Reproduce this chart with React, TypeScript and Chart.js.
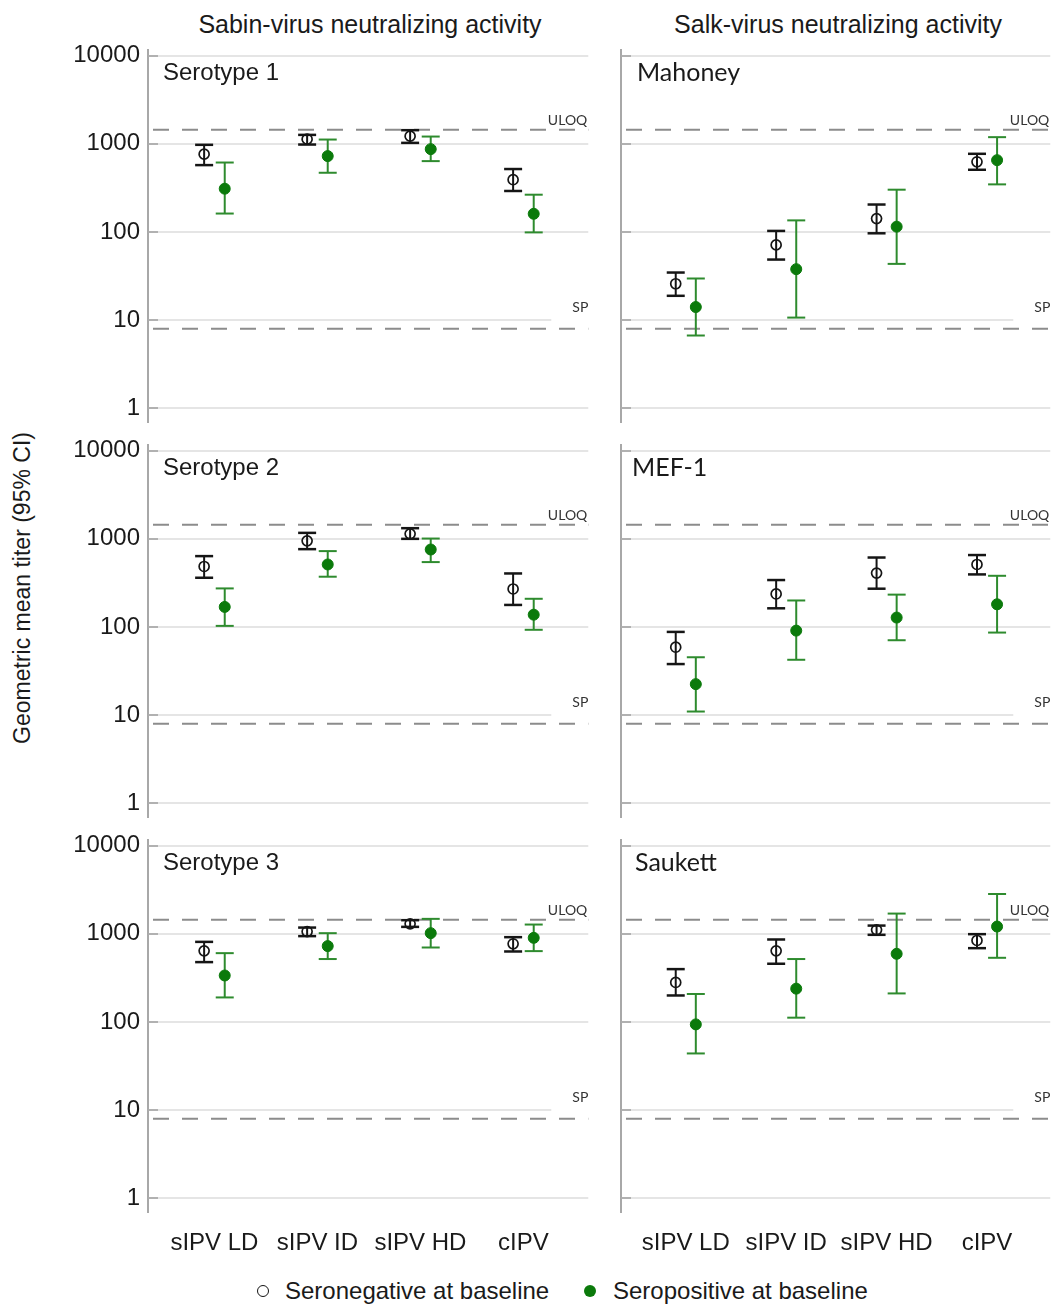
import React, { useEffect, useRef } from "react";
import { Chart, registerables } from "chart.js";

Chart.register(...registerables);

const CATEGORIES = ["sIPV LD", "sIPV ID", "sIPV HD", "cIPV"];
const Y_TICKS = [1, 10, 100, 1000, 10000];
const ULOQ = 1448;
const SP = 8;
const COLUMN_TITLES = ["Sabin-virus neutralizing activity", "Salk-virus neutralizing activity"];
const Y_TITLE = "Geometric mean titer (95% CI)";
const LEGEND_LABELS = ["Seronegative at baseline", "Seropositive at baseline"];

// Serotype 1 (Sabin)
const S1_NEG_GMT = [764, 1130, 1222, 392];
const S1_NEG_LO = [574, 982, 1026, 292];
const S1_NEG_HI = [975, 1264, 1429, 518];
const S1_POS_GMT = [310, 726, 871, 161];
const S1_POS_LO = [162, 470, 637, 99];
const S1_POS_HI = [614, 1119, 1210, 265];

// Mahoney (Salk)
const MA_NEG_GMT = [25.9, 71.4, 142, 626];
const MA_NEG_LO = [18.9, 48.7, 96.7, 508];
const MA_NEG_HI = [34.7, 102.9, 205, 771];
const MA_POS_GMT = [14.1, 37.9, 115, 653];
const MA_POS_LO = [6.7, 10.7, 43.5, 347];
const MA_POS_HI = [29.7, 135.5, 302, 1191];

// Serotype 2 (Sabin)
const S2_NEG_GMT = [486, 949, 1139, 270];
const S2_NEG_LO = [362, 764, 1000, 178];
const S2_NEG_HI = [637, 1169, 1321, 405];
const S2_POS_GMT = [169, 512, 757, 138];
const S2_POS_LO = [103, 372, 545, 93];
const S2_POS_HI = [274, 726, 1008, 209];

// MEF-1 (Salk)
const MF_NEG_GMT = [59, 237, 409, 512];
const MF_NEG_LO = [38, 163, 272, 395];
const MF_NEG_HI = [88, 341, 614, 655];
const MF_POS_GMT = [22.5, 91, 128, 181];
const MF_POS_LO = [11, 42.5, 70.8, 86.5];
const MF_POS_HI = [45.4, 200, 233, 381];

// Serotype 3 (Sabin)
const S3_NEG_GMT = [642, 1062, 1298, 771];
const S3_NEG_LO = [478, 942, 1200, 631];
const S3_NEG_HI = [811, 1178, 1429, 917];
const S3_POS_GMT = [337, 726, 1018, 901];
const S3_POS_LO = [190, 518, 700, 637];
const S3_POS_HI = [604, 1018, 1479, 1275];

// Saukett (Salk)
const SA_NEG_GMT = [281, 642, 1110, 841];
const SA_NEG_LO = [200, 458, 975, 688];
const SA_NEG_HI = [398, 863, 1241, 992];
const SA_POS_GMT = [94, 239, 594, 1210];
const SA_POS_LO = [44, 112, 211, 535];
const SA_POS_HI = [208, 518, 1698, 2831];

const PANEL_TITLES = ["Serotype 1", "Mahoney", "Serotype 2", "MEF-1", "Serotype 3", "Saukett"];
const PANEL_DATA = [
  [S1_NEG_GMT, S1_NEG_LO, S1_NEG_HI, S1_POS_GMT, S1_POS_LO, S1_POS_HI],
  [MA_NEG_GMT, MA_NEG_LO, MA_NEG_HI, MA_POS_GMT, MA_POS_LO, MA_POS_HI],
  [S2_NEG_GMT, S2_NEG_LO, S2_NEG_HI, S2_POS_GMT, S2_POS_LO, S2_POS_HI],
  [MF_NEG_GMT, MF_NEG_LO, MF_NEG_HI, MF_POS_GMT, MF_POS_LO, MF_POS_HI],
  [S3_NEG_GMT, S3_NEG_LO, S3_NEG_HI, S3_POS_GMT, S3_POS_LO, S3_POS_HI],
  [SA_NEG_GMT, SA_NEG_LO, SA_NEG_HI, SA_POS_GMT, SA_POS_LO, SA_POS_HI],
];

const ARIAL = "'Liberation Sans', Arial, sans-serif";
const CALIBRI = "Lato, 'Open Sans', sans-serif";
const NEG_COLOR = "#151515";
const POS_BAR = "#2e8b2e";
const POS_FILL = "#0b7a0b";
const ROW_STEP = 395;

function makeDecor() {
  return {
    id: "panelDecor",
    beforeDatasetsDraw(chart: any) {
      const { ctx, chartArea: a, scales } = chart;
      const x = scales.x;
      const y = scales.y;
      const ln = (x1: number, y1: number, x2: number, y2: number) => {
        ctx.beginPath();
        ctx.moveTo(x1, y1);
        ctx.lineTo(x2, y2);
        ctx.stroke();
      };
      ctx.save();
      ctx.setLineDash([]);
      Y_TICKS.forEach((v) => {
        const py = Math.round(y.getPixelForValue(v));
        ctx.strokeStyle = "#dddddd";
        ctx.lineWidth = 1.5;
        ln(a.left, py, v === 10 ? a.right - 37 : a.right, py);
        ctx.strokeStyle = "#a0a0a0";
        ln(a.left, py, a.left + 10, py);
      });
      ctx.strokeStyle = "#8c8c8c";
      ctx.lineWidth = 2;
      ctx.setLineDash([16, 13]);
      ctx.lineDashOffset = 24;
      const yU = y.getPixelForValue(ULOQ);
      const yS = y.getPixelForValue(SP);
      ln(a.left, yU, a.right, yU);
      ln(a.left, yS, a.right, yS);
      ctx.setLineDash([]);
      ctx.fillStyle = "#333333";
      ctx.font = `14px ${CALIBRI}`;
      ctx.textAlign = "right";
      ctx.textBaseline = "alphabetic";
      ctx.fillText("ULOQ", a.right - 1, yU - 5);
      ctx.fillText("SP", a.right, y.getPixelForValue(10) - 8);

      chart.data.datasets.forEach((ds: any, di: number) => {
        const col = di === 0 ? NEG_COLOR : POS_BAR;
        ctx.strokeStyle = col;
        ds.data.forEach((pt: any) => {
          const px = x.getPixelForValue(pt.x);
          const yl = y.getPixelForValue(pt.lo);
          const yh = y.getPixelForValue(pt.hi);
          ctx.lineWidth = 2;
          ln(px, yl, px, yh);
          ctx.lineWidth = di === 0 ? 2.5 : 2;
          ln(px - 9, yl, px + 9, yl);
          ln(px - 9, yh, px + 9, yh);
        });
      });
      ctx.restore();
    },
  };
}

function Panel({ index }: { index: number }) {
  const ref = useRef<HTMLCanvasElement>(null);
  const col = index % 2;
  const row = Math.floor(index / 2);
  const bottomRow = row === 2;
  const left = col === 0 ? 50 : 600;
  const width = col === 0 ? 545 : 457;
  const top = 40 + row * ROW_STEP;
  const height = bottomRow ? 434 : 390;

  useEffect(() => {
    const [ng, nl, nh, pg, pl, ph] = PANEL_DATA[index];
    const negData = ng.map((v, i) => ({ x: i - 0.1, y: v, lo: nl[i], hi: nh[i] }));
    const posData = pg.map((v, i) => ({ x: i + 0.1, y: v, lo: pl[i], hi: ph[i] }));
    const chart = new Chart(ref.current as HTMLCanvasElement, {
      type: "scatter",
      data: {
        datasets: [
          {
            label: LEGEND_LABELS[0],
            data: negData,
            pointStyle: "circle",
            pointRadius: 5,
            borderWidth: 1.7,
            borderColor: NEG_COLOR,
            backgroundColor: "rgba(0,0,0,0)",
          },
          {
            label: LEGEND_LABELS[1],
            data: posData,
            pointStyle: "circle",
            pointRadius: 5.5,
            borderWidth: 1,
            borderColor: POS_FILL,
            backgroundColor: POS_FILL,
          },
        ],
      } as any,
      options: {
        responsive: false,
        animation: false,
        events: [],
        layout: {
          padding: { top: 10, bottom: bottomRow ? 0 : 8, left: 0, right: col === 0 ? 6 : 4 },
        },
        plugins: { legend: { display: false }, tooltip: { enabled: false }, title: { display: false } },
        scales: {
          x: {
            type: "linear",
            min: -0.645,
            max: 3.63,
            display: bottomRow,
            grid: { display: false, drawTicks: false },
            border: { display: false },
            afterBuildTicks: (s: any) => {
              s.ticks = CATEGORIES.map((_, i) => ({ value: i }));
            },
            afterFit: (s: any) => {
              s.height = bottomRow ? 52 : 0;
              s.paddingLeft = 0;
              s.paddingRight = 0;
              s.paddingTop = 0;
              s.paddingBottom = 0;
            },
            ticks: {
              autoSkip: false,
              maxRotation: 0,
              padding: 17,
              color: "#1a1a1a",
              font: { family: ARIAL, size: 24 },
              callback: (v: any) => CATEGORIES[v] ?? "",
            },
          },
          y: {
            type: "logarithmic",
            min: 0.718,
            max: 11600,
            grid: { display: true, color: "rgba(0,0,0,0)", drawTicks: false, lineWidth: 1 },
            border: { display: true, color: "#a8a8a8", width: 2 },
            afterBuildTicks: (s: any) => {
              s.ticks = Y_TICKS.map((v) => ({ value: v }));
            },
            afterFit: (s: any) => {
              s.width = col === 0 ? 98 : 21;
              s.paddingTop = 0;
              s.paddingBottom = 0;
              s.paddingLeft = 0;
              s.paddingRight = 0;
            },
            ticks: {
              display: col === 0,
              padding: 8,
              color: "#1a1a1a",
              font: { family: ARIAL, size: 24 },
              callback: (v: any) => String(v),
            },
          },
        },
      } as any,
      plugins: [makeDecor()],
    });
    return () => chart.destroy();
  }, [index]);

  return (
    <>
      <canvas
        ref={ref}
        width={width}
        height={height}
        style={{ position: "absolute", left, top, width, height }}
      />
      <div
        style={{
          position: "absolute",
          left: col === 0 ? 163 : [637, 632, 635][row],
          top: col === 0 ? 60 + row * ROW_STEP : 58.5 + row * ROW_STEP,
          fontFamily: col === 0 ? ARIAL : CALIBRI,
          fontSize: col === 0 ? 24 : 25,
          lineHeight: col === 0 ? "24px" : "25px",
          color: "#1a1a1a",
          whiteSpace: "nowrap",
        }}
      >
        {PANEL_TITLES[index]}
      </div>
    </>
  );
}

export default function App() {
  return (
    <div
      style={{
        position: "absolute",
        left: 0,
        top: 0,
        width: 1057,
        height: 1304,
        background: "#ffffff",
        overflow: "hidden",
      }}
    >
      {COLUMN_TITLES.map((t, i) => (
        <div
          key={t}
          style={{
            position: "absolute",
            left: (i === 0 ? 370 : 838) - 250,
            width: 500,
            top: 12,
            textAlign: "center",
            fontFamily: ARIAL,
            fontSize: 25,
            lineHeight: "25px",
            color: "#1a1a1a",
            whiteSpace: "nowrap",
          }}
        >
          {t}
        </div>
      ))}
      <div
        style={{
          position: "absolute",
          left: 22,
          top: 588,
          width: 400,
          textAlign: "center",
          transform: "translate(-50%, -50%) rotate(-90deg)",
          fontFamily: ARIAL,
          fontSize: 23,
          lineHeight: "23px",
          color: "#1a1a1a",
          whiteSpace: "nowrap",
        }}
      >
        {Y_TITLE}
      </div>
      {[0, 1, 2, 3, 4, 5].map((i) => (
        <Panel key={i} index={i} />
      ))}
      <div
        style={{
          position: "absolute",
          left: 256.5,
          top: 1284.5,
          width: 10,
          height: 10,
          border: `1.7px solid ${NEG_COLOR}`,
          borderRadius: "50%",
        }}
      />
      <div
        style={{
          position: "absolute",
          left: 584,
          top: 1285,
          width: 12,
          height: 12,
          background: POS_FILL,
          borderRadius: "50%",
        }}
      />
      {LEGEND_LABELS.map((t, i) => (
        <div
          key={t}
          style={{
            position: "absolute",
            left: i === 0 ? 285 : 613,
            top: 1279.3,
            fontFamily: ARIAL,
            fontSize: 24,
            lineHeight: "24px",
            color: "#1a1a1a",
            whiteSpace: "nowrap",
          }}
        >
          {t}
        </div>
      ))}
    </div>
  );
}
